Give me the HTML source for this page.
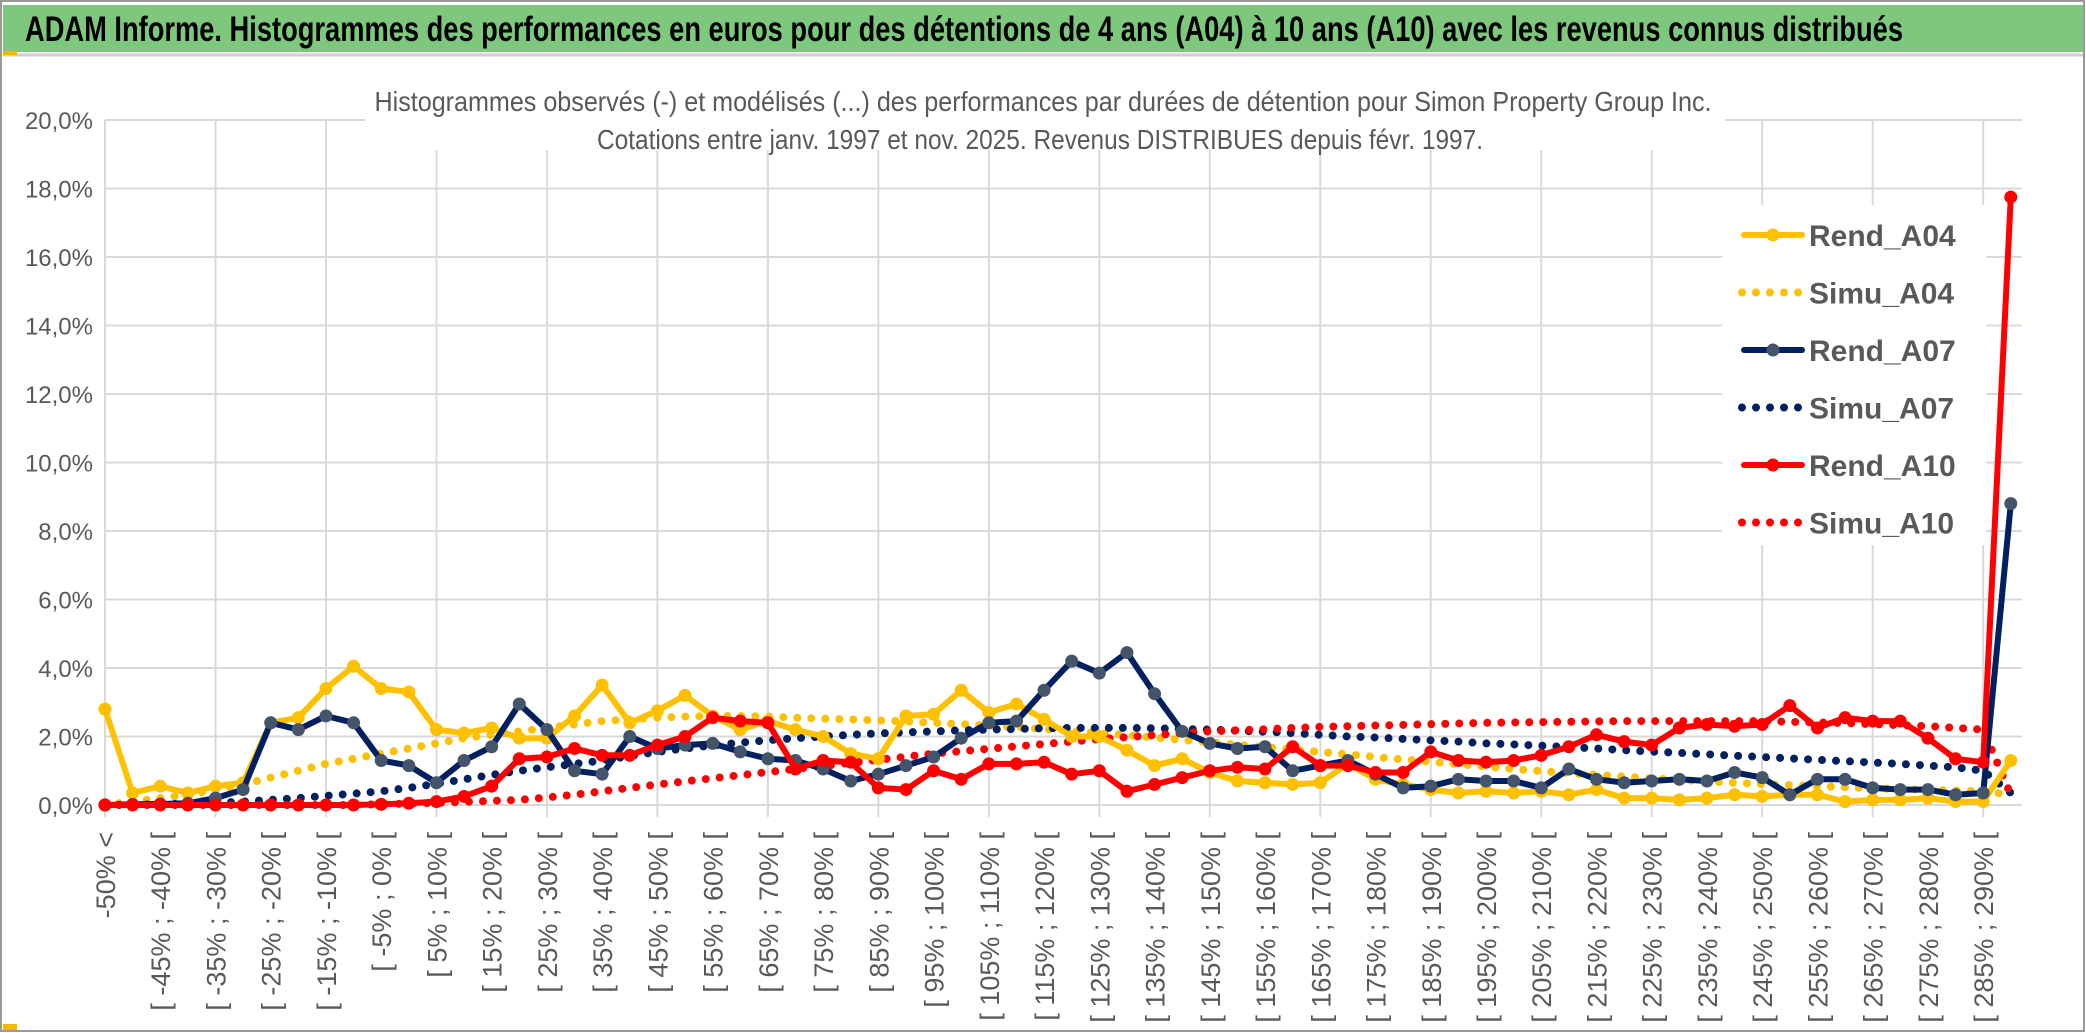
<!DOCTYPE html>
<html><head><meta charset="utf-8">
<style>
html,body{margin:0;padding:0;background:#fff;}
svg{display:block;font-family:"Liberation Sans Narrow","Liberation Sans",sans-serif;}
</style></head>
<body>
<svg id="chart" width="2086" height="1033" viewBox="0 0 2086 1033" xmlns="http://www.w3.org/2000/svg">
  <rect x="0" y="0" width="2086" height="1033" fill="#fff"/>
  <rect x="1" y="1" width="2083" height="1030" fill="none" stroke="#9a9a9a" stroke-width="2"/>
  <rect x="3" y="5" width="2080" height="47" fill="#7ec87e"/>
  <line x1="3" y1="55" x2="2083" y2="55" stroke="#cfcfcf" stroke-width="3"/>
  <rect x="3" y="51" width="14" height="4" fill="#f5b800"/>
  <rect x="3" y="1024" width="14" height="6" fill="#f5b800"/>
  <text x="25" y="41" font-size="35" font-weight="bold" fill="#000" textLength="1878" lengthAdjust="spacingAndGlyphs">ADAM Informe. Histogrammes des performances en euros pour des détentions de 4 ans (A04) à 10 ans (A10) avec les revenus connus distribués</text>
  <g id="grid"></g>
  <g id="yaxis"></g>
  <g id="xaxis"></g>
  <rect x="365" y="80" width="1360" height="70" fill="#fff"/>
  <text x="1043" y="111" font-size="28" fill="#595959" text-anchor="middle" textLength="1337" lengthAdjust="spacingAndGlyphs">Histogrammes observés (-) et modélisés (...) des performances par durées de détention pour Simon Property Group Inc.</text>
  <text x="1040" y="149" font-size="28" fill="#595959" text-anchor="middle" textLength="886" lengthAdjust="spacingAndGlyphs">Cotations entre janv. 1997 et nov. 2025. Revenus DISTRIBUES depuis févr. 1997.</text>
  <g id="series"></g>
  <g id="legend"></g>
</svg>
<script>
const rendA04 = [2.8,0.35,0.55,0.35,0.55,0.65,2.4,2.55,3.4,4.05,3.4,3.3,2.2,2.1,2.25,1.95,1.95,2.6,3.5,2.4,2.75,3.2,2.6,2.2,2.45,2.2,2.0,1.5,1.35,2.6,2.65,3.35,2.7,2.95,2.5,2.0,2.0,1.6,1.15,1.35,0.95,0.7,0.65,0.6,0.65,1.2,0.75,0.6,0.45,0.35,0.4,0.35,0.4,0.3,0.45,0.2,0.2,0.15,0.2,0.3,0.25,0.3,0.3,0.1,0.15,0.15,0.2,0.1,0.1,1.3];
const simuA04 = [0,0.1,0.2,0.3,0.45,0.6,0.8,1.0,1.2,1.35,1.5,1.65,1.8,1.95,2.05,2.15,2.25,2.35,2.45,2.5,2.55,2.58,2.6,2.6,2.58,2.55,2.52,2.5,2.47,2.44,2.4,2.36,2.32,2.27,2.22,2.17,2.1,2.04,1.97,1.9,1.83,1.76,1.69,1.62,1.55,1.48,1.4,1.33,1.26,1.19,1.12,1.05,0.99,0.93,0.88,0.83,0.78,0.73,0.69,0.65,0.61,0.58,0.55,0.52,0.49,0.46,0.44,0.42,0.4,0.3];
const rendA07 = [0,0.02,0.03,0.05,0.2,0.45,2.4,2.2,2.6,2.4,1.3,1.15,0.65,1.3,1.7,2.95,2.2,1.0,0.9,2.0,1.65,1.75,1.8,1.55,1.35,1.3,1.05,0.7,0.9,1.15,1.4,1.95,2.4,2.45,3.35,4.2,3.85,4.45,3.25,2.15,1.8,1.65,1.7,1.0,1.15,1.3,0.9,0.5,0.55,0.75,0.7,0.7,0.5,1.05,0.75,0.65,0.7,0.75,0.7,0.95,0.8,0.3,0.75,0.75,0.5,0.45,0.45,0.3,0.35,8.8];
const simuA07 = [0,0.01,0.02,0.04,0.06,0.1,0.15,0.2,0.27,0.33,0.4,0.5,0.62,0.75,0.88,1.0,1.1,1.2,1.3,1.43,1.55,1.65,1.74,1.82,1.89,1.95,2.0,2.05,2.09,2.12,2.15,2.18,2.2,2.22,2.24,2.25,2.25,2.25,2.24,2.22,2.2,2.17,2.14,2.1,2.05,2.0,1.97,1.93,1.89,1.85,1.8,1.77,1.73,1.69,1.65,1.6,1.56,1.52,1.48,1.44,1.4,1.36,1.32,1.28,1.24,1.2,1.15,1.1,1.0,0.35];
const rendA10 = [0,0,0,0,0,0,0,0,0,0,0.02,0.05,0.1,0.25,0.55,1.35,1.4,1.65,1.45,1.45,1.75,2.0,2.55,2.45,2.4,1.05,1.3,1.25,0.5,0.45,1.0,0.75,1.2,1.2,1.25,0.9,1.0,0.4,0.6,0.8,1.0,1.1,1.05,1.7,1.15,1.15,0.95,0.95,1.55,1.3,1.25,1.3,1.45,1.7,2.05,1.85,1.75,2.25,2.35,2.3,2.35,2.9,2.25,2.55,2.45,2.45,1.95,1.35,1.25,17.75];
const simuA10 = [0,0,0,0,0,0,0,0,0,0,0.02,0.04,0.06,0.09,0.12,0.15,0.22,0.3,0.4,0.5,0.6,0.69,0.78,0.87,0.96,1.05,1.14,1.23,1.32,1.41,1.5,1.57,1.64,1.71,1.78,1.85,1.92,1.98,2.04,2.1,2.15,2.18,2.21,2.25,2.28,2.3,2.32,2.34,2.36,2.38,2.4,2.41,2.42,2.43,2.44,2.45,2.45,2.45,2.45,2.45,2.45,2.43,2.41,2.39,2.36,2.33,2.3,2.25,2.2,0.3];
const yTicks = [0,2,4,6,8,10,12,14,16,18,20];
const categories = ["-50% <"];
for (let k = 1; k <= 68; k++) { const a = -50 + 5*(k-1); categories.push("[ " + a + "% ; " + (a+5) + "% ["); }
categories.push("> 290%");

const NS = "http://www.w3.org/2000/svg";
const X0 = 105, STEP = 27.62, Y0 = 805, YTOP = 120, PR = 2022;
const xPos = i => X0 + i * STEP;
const yPos = v => Y0 - (v / 20) * (Y0 - YTOP);
function mk(tag, attrs, parent) { const e = document.createElementNS(NS, tag); for (const k in attrs) e.setAttribute(k, attrs[k]); parent.appendChild(e); return e; }

const grid = document.getElementById('grid');
const yax = document.getElementById('yaxis');
yTicks.forEach(t => {
  const y = yPos(t);
  const l = mk('line', {x1: X0, y1: y, x2: PR, y2: y, stroke: '#d9d9d9', 'stroke-width': 2}, grid);
  
  
  const tx = mk('text', {x: 93, y: y + 9, 'font-size': 24, fill: '#595959', 'text-anchor': 'end'}, yax);
  tx.textContent = t.toFixed(1).replace('.', ',') + '%';
  
  
});
for (let i = 0; i < categories.length; i += 4) {
  const l = mk('line', {x1: xPos(i), y1: YTOP, x2: xPos(i), y2: Y0 + 12, stroke: '#d9d9d9', 'stroke-width': 2}, grid);
  
  
}
const xax = document.getElementById('xaxis');
for (let i = 0; i < 69; i += 2) {
  const x = xPos(i) + 10, y = 832;
  const tx = mk('text', {x: x, y: y, 'font-size': 27, fill: '#595959', 'text-anchor': 'end', transform: 'rotate(-90 ' + x + ' ' + y + ')', 'font-family': '"Liberation Sans", sans-serif'}, xax);
  tx.textContent = categories[i];
  
  
}

const series = document.getElementById('series');
function pts(arr) { return arr.map((v, i) => xPos(i).toFixed(1) + ',' + yPos(v).toFixed(1)).join(' '); }
function dotted(arr, color, name) {
  const p = mk('polyline', {points: pts(arr), fill: 'none', stroke: color, 'stroke-width': 8, 'stroke-linecap': 'round', 'stroke-dasharray': '0 14'}, series);
  
  
}
function solid(arr, color, mcolor, name) {
  const g = mk('g', {}, series);
  
  
  mk('polyline', {points: pts(arr), fill: 'none', stroke: color, 'stroke-width': 6, 'stroke-linejoin': 'round'}, g);
  arr.forEach((v, i) => {
    const c = mk('circle', {cx: xPos(i), cy: yPos(v), r: 6.5, fill: mcolor}, g);
    
    
  });
}
dotted(simuA04, '#ffc000', 'simu-a04-line');
dotted(simuA07, '#002060', 'simu-a07-line');
dotted(simuA10, '#ff0000', 'simu-a10-line');
solid(rendA04, '#ffc000', '#ffc000', 'rend-a04-line');
solid(rendA07, '#002060', '#44546a', 'rend-a07-line');
solid(rendA10, '#ff0000', '#ff0000', 'rend-a10-line');

const legend = document.getElementById('legend');
const lb = mk('rect', {x: 1722, y: 205, width: 264, height: 340, fill: '#fff'}, legend);


const legNames = ['Rend_A04','Simu_A04','Rend_A07','Simu_A07','Rend_A10','Simu_A10'];
const legColors = ['#ffc000','#ffc000','#002060','#002060','#ff0000','#ff0000'];
const legMarks = ['#ffc000','','#44546a','','#ff0000',''];
legNames.forEach((n, k) => {
  const y = 235 + k * 57.5;
  const g = mk('g', {}, legend);
  
  
  if (legMarks[k]) {
    mk('line', {x1: 1744, y1: y, x2: 1802, y2: y, stroke: legColors[k], 'stroke-width': 6, 'stroke-linecap': 'round'}, g);
    mk('circle', {cx: 1773, cy: y, r: 6.5, fill: legMarks[k]}, g);
  } else {
    mk('line', {x1: 1742, y1: y, x2: 1802, y2: y, stroke: legColors[k], 'stroke-width': 8, 'stroke-linecap': 'round', 'stroke-dasharray': '0 14'}, g);
  }
  const t = mk('text', {x: 1809, y: y + 11, 'font-size': 30, fill: '#595959', 'font-weight': 'bold'}, g);
  t.textContent = n;
});
</script>
</body></html>
